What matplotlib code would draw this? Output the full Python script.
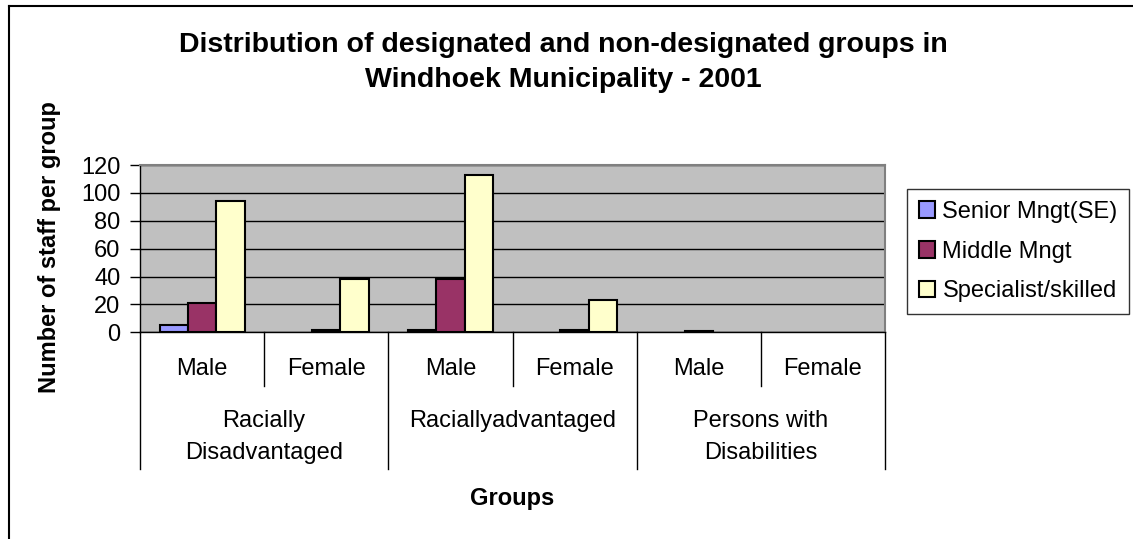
import numpy as np
import matplotlib as mpl
mpl.use('Agg')
import matplotlib.pyplot as plt
from matplotlib.lines import Line2D

plt.rcParams['font.family'] = ['Liberation Sans', 'DejaVu Sans']

subgroups = ['Male', 'Female', 'Male', 'Female', 'Male', 'Female']
groups = [['Racially', 'Disadvantaged'], ['Raciallyadvantaged'], ['Persons with', 'Disabilities']]
series = ['Senior Mngt(SE)', 'Middle Mngt', 'Specialist/skilled']
senior = [5, 0, 2, 0, 0, 0]
middle = [21, 2, 38, 2, 1, 0]
skilled = [94, 38, 113, 23, 0, 0]
colors = ['#9999FF', '#993366', '#FFFFCC']
title_lines = ['Distribution of designated and non-designated groups in',
               'Windhoek Municipality - 2001']

W, H = 1133, 539
fig = plt.figure(figsize=(W / 100, H / 100), dpi=100)
ax = fig.add_axes([140 / W, 1 - 332.3 / H, (885 - 140) / W, (332.3 - 165) / H])
ax.set_facecolor('#C0C0C0')

x = np.arange(len(subgroups))
bw = 0.228
for i, (vals, lab) in enumerate(zip([senior, middle, skilled], series)):
    bars = ax.bar(x + (i - 1) * bw, vals, bw, color=colors[i], edgecolor='black',
                  linewidth=1.5, label=lab, zorder=3)
    for b, v in zip(bars, vals):
        if v == 0:
            b.set_visible(False)

ax.set_xlim(-0.5, len(subgroups) - 0.5)
ax.set_ylim(0, 120)
ax.set_yticks(range(0, 121, 20))
ax.yaxis.grid(True, color='black', linewidth=1, zorder=1)
ax.set_axisbelow(True)
ax.tick_params(axis='y', direction='out', length=7, width=1, labelsize=17, pad=7)
ax.set_xticks([])
for s in ['top', 'right']:
    ax.spines[s].set_color('#808080')
    ax.spines[s].set_linewidth(1.5)
for s in ['left', 'bottom']:
    ax.spines[s].set_color('black')
    ax.spines[s].set_linewidth(1)

# category axis: two levels
tr = ax.get_xaxis_transform()
ax_h = 332.3 - 165


def yfrac(py):
    return (332.3 - py) / ax_h


for k in range(len(subgroups) + 1):
    xb = k - 0.5
    ybot = yfrac(469) if k % 2 == 0 else yfrac(386)
    ax.plot([xb, xb], [0, ybot], color='black', linewidth=1, transform=tr, clip_on=False)
for k, lab in enumerate(subgroups):
    ax.text(k, yfrac(369), lab, transform=tr, ha='center', va='center', fontsize=17)
for g, lines in enumerate(groups):
    for j, line in enumerate(lines):
        ax.text(2 * g + 0.5, yfrac(421 + 32 * j), line, transform=tr, ha='center',
                va='center', fontsize=17)
ax.text(2.5, yfrac(498), 'Groups', transform=tr, ha='center', va='center',
        fontsize=17, fontweight='bold')

fig.text(50 / W, 1 - 247 / H, 'Number of staff per group', rotation=90,
         ha='center', va='center', fontsize=17, fontweight='bold')
for j, line in enumerate(title_lines):
    fig.text(563 / W, 1 - (45 + 35 * j) / H, line, ha='center', va='center',
             fontsize=20.5, fontweight='bold')

leg = ax.legend(loc='upper left', bbox_to_anchor=(907 / W, 1 - 189 / H),
                bbox_transform=fig.transFigure, fontsize=17, frameon=True,
                fancybox=False, edgecolor='black', handlelength=0.7,
                handleheight=0.7, handletextpad=0.3, borderpad=0.5,
                labelspacing=0.75, borderaxespad=0)
leg.get_frame().set_linewidth(1)

# chart border (left and top visible)
fig.add_artist(Line2D([9 / W, 9 / W], [0, 1 - 6 / H], color='black', linewidth=1.5))
fig.add_artist(Line2D([9 / W, 1], [1 - 6 / H, 1 - 6 / H], color='black', linewidth=1.5))

fig.savefig('out.png', dpi=100)
